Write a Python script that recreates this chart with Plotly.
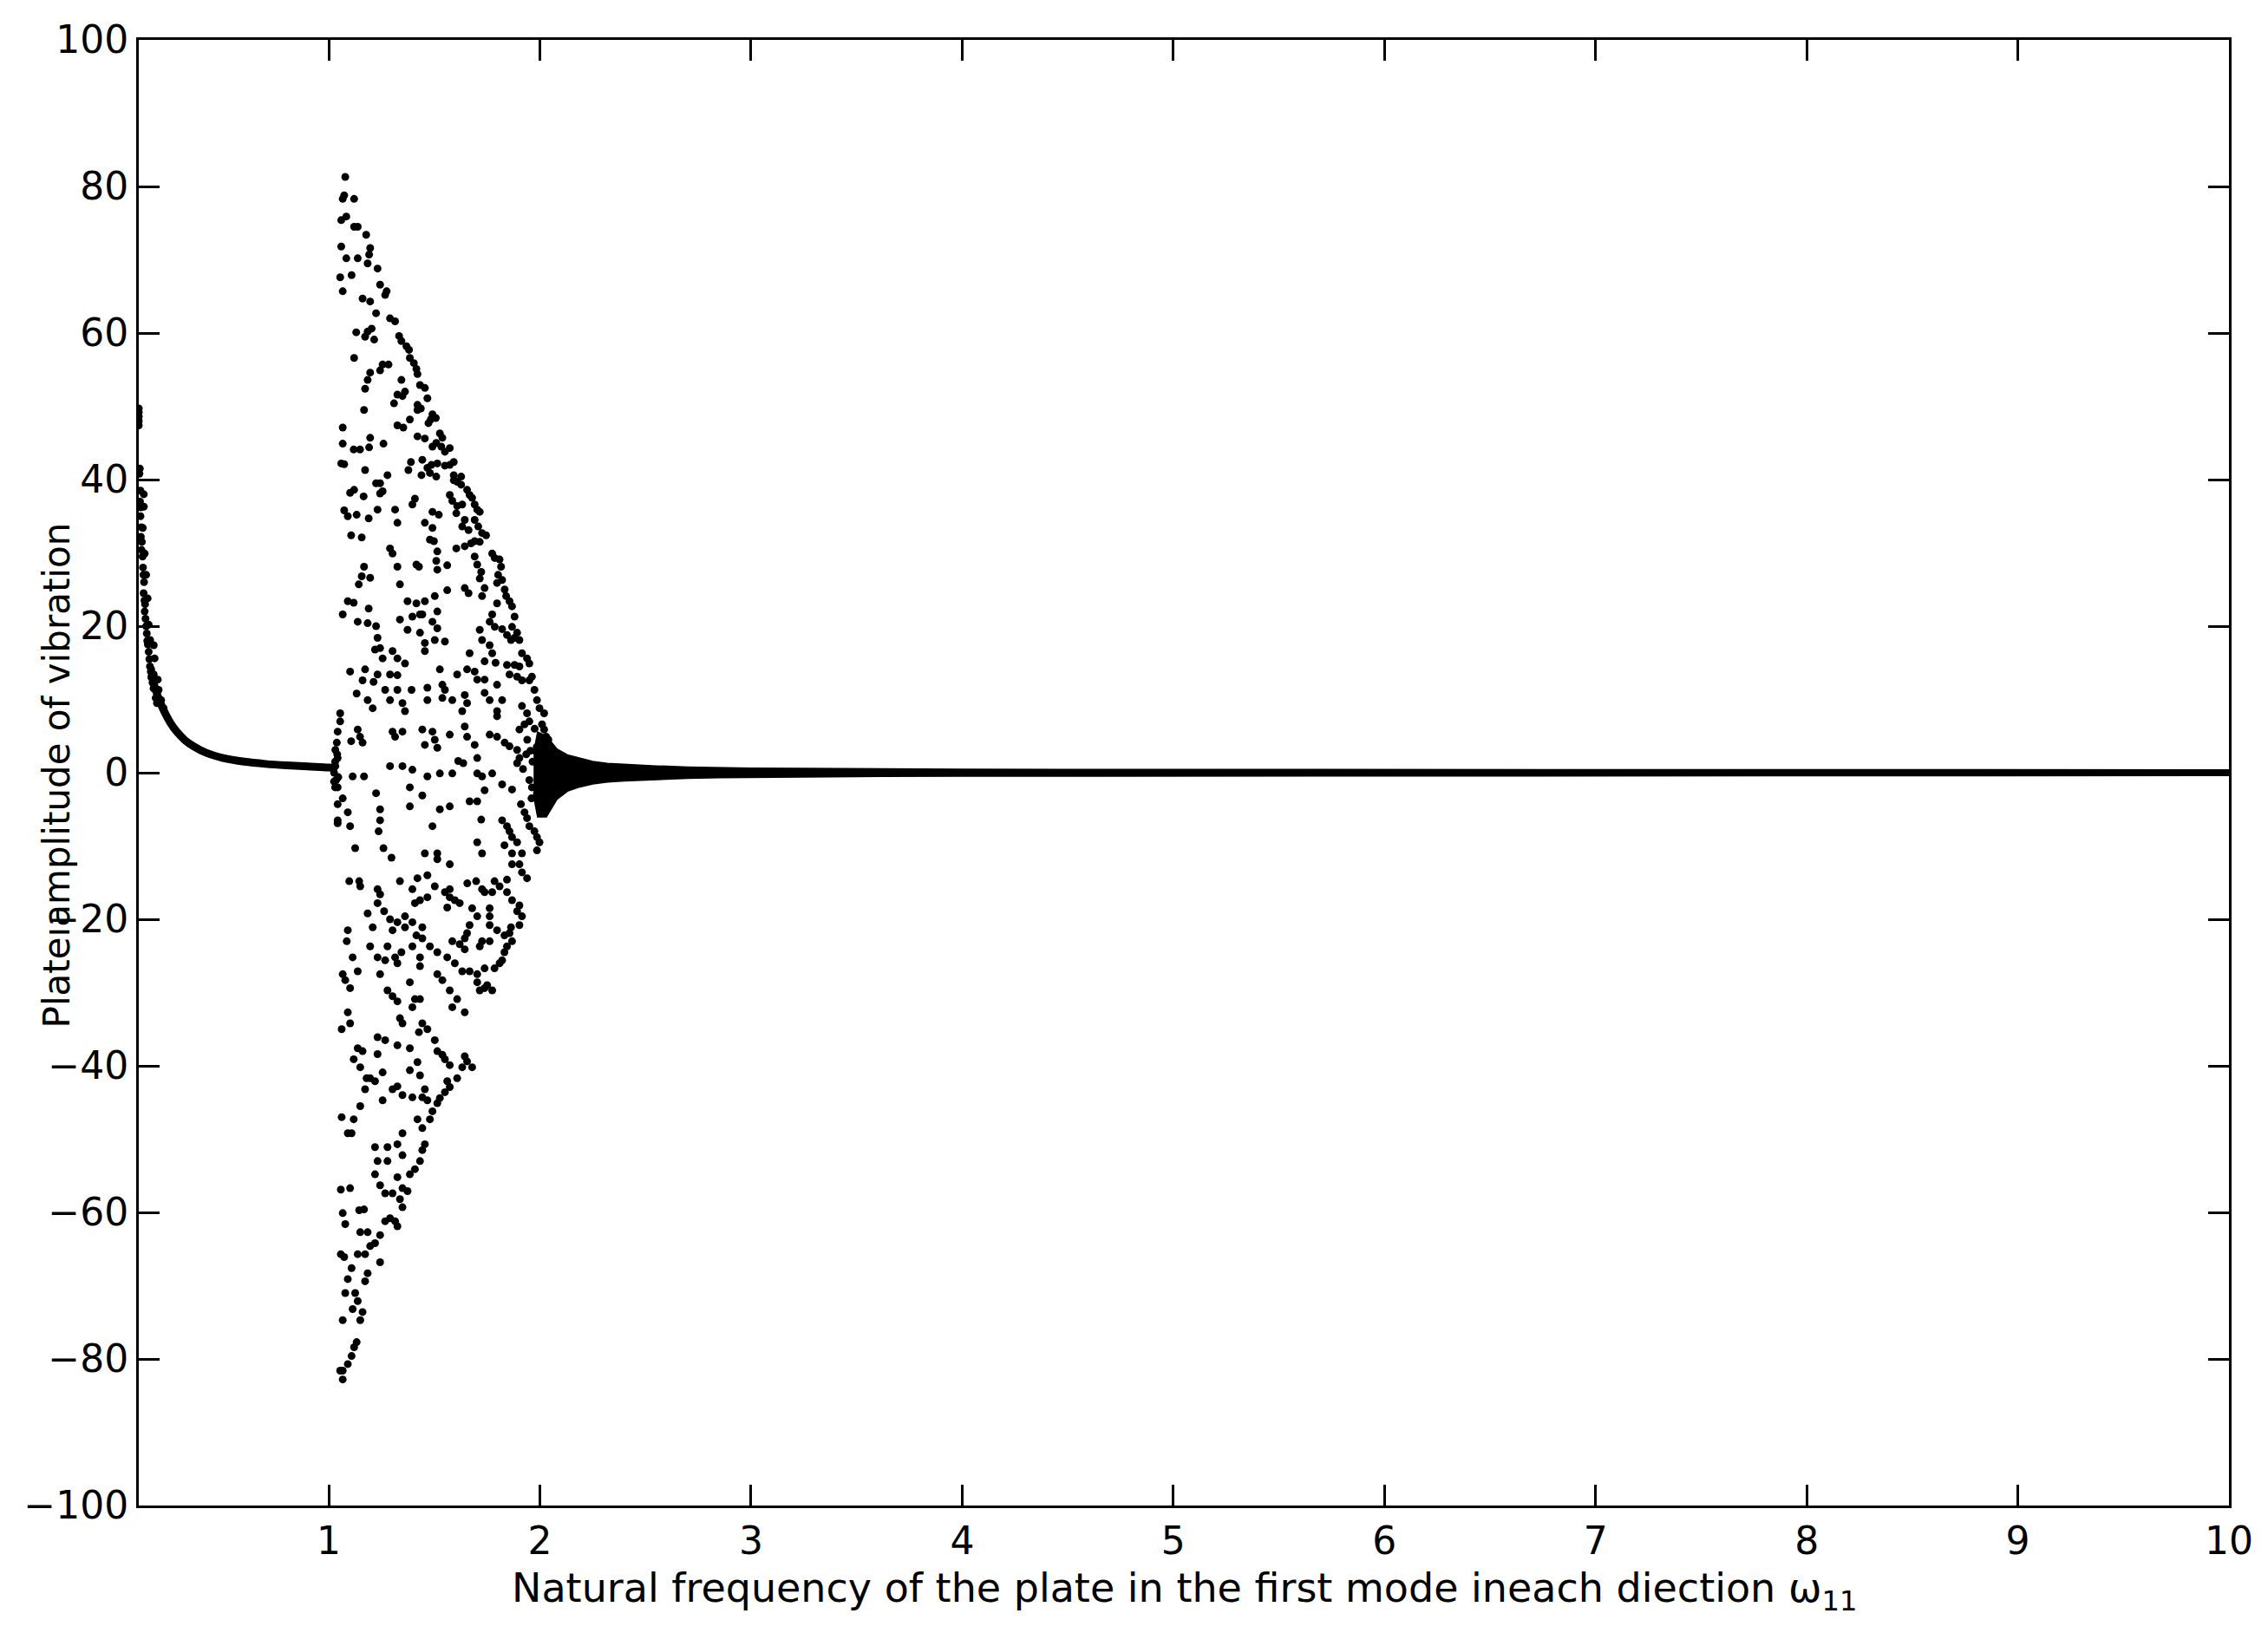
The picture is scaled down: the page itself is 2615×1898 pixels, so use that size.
import plotly.graph_objects as go

# ---------------- data ----------------
# left decaying branch (scattered points near the left edge)
decay_dots = [
    (0.100, 47.4), (0.100, 48.0), (0.100, 48.6), (0.100, 49.2), (0.100, 49.7),
    (0.105, 41.5), (0.103, 40.8), (0.108, 38.5), (0.106, 37.0), (0.110, 36.2),
    (0.108, 35.0), (0.112, 33.5), (0.110, 32.2), (0.115, 31.5), (0.113, 30.4),
    (0.118, 29.5), (0.120, 28.0), (0.122, 27.0), (0.125, 26.0), (0.123, 24.5),
    (0.127, 23.5), (0.130, 23.0), (0.128, 22.0), (0.132, 21.0), (0.135, 20.0),
    (0.138, 19.0), (0.140, 18.0), (0.143, 17.5), (0.147, 16.5), (0.150, 15.5),
    (0.153, 14.5), (0.157, 13.8), (0.160, 13.0), (0.165, 12.3), (0.170, 11.5),
    (0.124, 38.0), (0.124, 36.3), (0.119, 33.4), (0.128, 29.9), (0.135, 27.0),
    (0.142, 23.8), (0.147, 20.2), (0.154, 18.1), (0.171, 17.4), (0.175, 15.6),
    (0.159, 14.1), (0.171, 13.4), (0.190, 12.7), (0.194, 11.3), (0.206, 9.9),
    (0.218, 8.8), (0.180, 10.2), (0.186, 9.5),
]
decay_line_x = [0.16, 0.18, 0.20, 0.22, 0.25, 0.28, 0.32, 0.36, 0.42, 0.50,
                0.60, 0.70, 0.80, 0.90, 1.00, 1.04]
decay_line_y = [13.5, 11.3, 9.7, 8.4, 6.8, 5.6, 4.4, 3.6, 2.7, 2.0,
                1.5, 1.2, 1.0, 0.85, 0.7, 0.6]

# chaotic cloud, upper half
cloud_upper = [
    (1.078, 81.3), (1.073, 78.8), (1.066, 78.3), (1.120, 78.3), (1.083, 75.9),
    (1.059, 75.4), (1.120, 74.5), (1.137, 74.5), (1.177, 73.4), (1.059, 71.8),
    (1.196, 71.6), (1.191, 70.7), (1.083, 70.2), (1.137, 70.2), (1.184, 69.5),
    (1.231, 68.8), (1.108, 67.9), (1.054, 67.6), (1.066, 65.7), (1.160, 64.7),
    (1.196, 64.3), (1.243, 66.6), (1.267, 65.2), (1.274, 65.7), (1.224, 62.7),
    (1.290, 62.0), (1.314, 61.6), (1.203, 60.6), (1.184, 60.2), (1.130, 60.1),
    (1.172, 59.5), (1.215, 59.1), (1.333, 59.6), (1.344, 58.9), (1.368, 58.2),
    (1.380, 57.7), (1.120, 56.6), (1.384, 56.6), (1.403, 55.9), (1.415, 55.1),
    (1.420, 54.4), (1.255, 55.7), (1.283, 55.7), (1.243, 54.9), (1.196, 54.6),
    (1.184, 53.6), (1.172, 52.4), (1.344, 53.6), (1.361, 52.0), (1.325, 51.6),
    (1.349, 51.4), (1.432, 52.9), (1.455, 52.5), (1.467, 51.1), (1.309, 50.4),
    (1.167, 49.5), (1.420, 50.2), (1.420, 49.5), (1.436, 49.7), (1.491, 48.9),
    (1.507, 48.4), (1.483, 48.2), (1.472, 47.7), (1.325, 47.4), (1.353, 47.1),
    (1.384, 48.2), (1.066, 47.1), (1.066, 44.9), (1.420, 45.9), (1.455, 45.6),
    (1.526, 46.3), (1.538, 45.7), (1.509, 45.0), (1.491, 44.5), (1.533, 44.5),
    (1.573, 44.3), (1.550, 43.8), (1.196, 45.7), (1.191, 44.4), (1.259, 44.9),
    (1.118, 44.1), (1.148, 44.1), (1.059, 42.2), (1.073, 42.1), (1.389, 42.4),
    (1.443, 42.7), (1.467, 41.6), (1.486, 42.0), (1.514, 42.2), (1.550, 41.9),
    (1.573, 42.0), (1.592, 42.4), (1.172, 41.3), (1.377, 41.3), (1.439, 40.6),
    (1.509, 40.4), (1.479, 40.9), (1.592, 40.6), (1.627, 40.4), (1.592, 39.9),
    (1.608, 39.7), (1.627, 39.3), (1.278, 40.6), (1.224, 39.5), (1.243, 39.5),
    (1.255, 38.4), (1.120, 38.6), (1.101, 38.2), (1.165, 37.7), (1.243, 38.1),
    (1.655, 38.6), (1.667, 37.9), (1.679, 37.5), (1.691, 36.6), (1.703, 35.9),
    (1.715, 35.6), (1.573, 37.9), (1.585, 37.1), (1.608, 36.4), (1.632, 36.6),
    (1.604, 35.4), (1.408, 37.4), (1.396, 36.6), (1.073, 35.8), (1.090, 35.0),
    (1.132, 35.2), (1.189, 34.7), (1.231, 35.9), (1.314, 35.9), (1.325, 34.1),
    (1.491, 35.6), (1.521, 35.2), (1.455, 34.1), (1.491, 33.4), (1.644, 34.5),
    (1.691, 34.5), (1.708, 33.6), (1.726, 32.7), (1.745, 32.4), (1.632, 33.6),
    (1.662, 33.1), (1.691, 31.6), (1.715, 31.5), (1.106, 32.4), (1.156, 32.1),
    (1.479, 31.8), (1.498, 31.6), (1.674, 31.3), (1.644, 30.9), (1.604, 30.6),
    (1.774, 29.9), (1.786, 29.3), (1.809, 29.1), (1.816, 28.1), (1.802, 27.0),
    (1.821, 26.3), (1.797, 25.9), (1.833, 25.0), (1.290, 30.6), (1.302, 29.9),
    (1.325, 28.1), (1.514, 30.2), (1.691, 29.5), (1.703, 28.4), (1.722, 27.4),
    (1.715, 26.5), (1.509, 28.9), (1.514, 27.7), (1.561, 28.3), (1.415, 28.4),
    (1.427, 28.1), (1.337, 25.7), (1.167, 28.1), (1.156, 26.8), (1.142, 25.7),
    (1.196, 26.6), (1.644, 25.2), (1.662, 24.5), (1.738, 25.2), (1.726, 24.1),
    (1.840, 24.1), (1.856, 23.4), (1.868, 22.7), (1.880, 21.3), (1.868, 19.9),
    (1.892, 19.1), (1.903, 18.1), (1.797, 23.1), (1.774, 21.6), (1.762, 20.6),
    (1.786, 19.9), (1.821, 19.6), (1.844, 18.8), (1.863, 18.1), (1.880, 18.4),
    (1.561, 24.9), (1.502, 24.1), (1.455, 23.4), (1.514, 22.0), (1.443, 21.6),
    (1.373, 23.4), (1.415, 23.1), (1.432, 21.6), (1.118, 23.2), (1.090, 23.4),
    (1.189, 22.4), (1.066, 21.6), (1.137, 20.6), (1.184, 20.4), (1.224, 20.0),
    (1.337, 20.9), (1.396, 21.3), (1.373, 19.5), (1.432, 19.1), (1.491, 20.6),
    (1.514, 19.7), (1.455, 17.7), (1.455, 16.6), (1.502, 18.1), (1.550, 17.9),
    (1.715, 19.5), (1.726, 18.1), (1.762, 17.4), (1.774, 16.3), (1.738, 15.2),
    (1.790, 15.0), (1.915, 16.3), (1.939, 15.6), (1.950, 14.9), (1.962, 13.1),
    (1.950, 12.6), (1.974, 11.3), (1.844, 14.7), (1.880, 14.7), (1.903, 14.5),
    (1.856, 13.4), (1.892, 13.1), (1.915, 12.6), (1.231, 18.4), (1.243, 17.0),
    (1.219, 16.8), (1.255, 15.6), (1.302, 16.6), (1.325, 15.6), (1.361, 14.9),
    (1.101, 13.8), (1.172, 14.1), (1.231, 13.4), (1.290, 13.4), (1.325, 13.3),
    (1.160, 12.6), (1.212, 12.4), (1.267, 11.3), (1.325, 11.3), (1.667, 16.3),
    (1.655, 14.1), (1.691, 13.8), (1.703, 12.7), (1.738, 12.7), (1.608, 13.4),
    (1.526, 14.1), (1.538, 12.0), (1.550, 11.3), (1.467, 11.6), (1.392, 11.3),
    (1.467, 9.9), (1.797, 12.0), (1.821, 9.9), (1.132, 10.8), (1.184, 9.9),
    (1.208, 8.8), (1.290, 9.9), (1.349, 9.5), (1.361, 8.4), (1.538, 10.2),
    (1.585, 9.9), (1.644, 10.6), (1.655, 9.5), (1.632, 8.4), (1.738, 10.9),
    (1.762, 9.9), (1.797, 8.4), (1.797, 7.7), (1.986, 9.9), (1.998, 8.8),
    (2.020, 8.1), (2.010, 6.6), (2.020, 5.9), (2.030, 4.9), (2.040, 4.5),
    (1.915, 9.1), (1.939, 8.1), (1.950, 7.0), (1.927, 6.6), (1.903, 5.9),
    (1.054, 8.1), (1.054, 7.0), (1.042, 5.6), (1.038, 4.1), (1.031, 3.1),
    (1.042, 2.0), (1.031, 0.9), (1.137, 5.9), (1.148, 4.9), (1.160, 4.1),
    (1.106, 4.3), (1.302, 5.6), (1.314, 4.9), (1.349, 5.6), (1.443, 5.9),
    (1.491, 5.6), (1.502, 4.5), (1.455, 3.8), (1.514, 3.4), (1.573, 5.2),
    (1.644, 6.3), (1.655, 4.9), (1.691, 3.8), (1.703, 2.0), (1.762, 5.2),
    (1.797, 4.9), (1.833, 4.1), (1.856, 3.6), (1.892, 3.1), (1.903, 2.0),
    (1.613, 1.6), (1.637, 1.3), (1.585, -0.1), (1.526, -0.1), (1.467, -0.5),
    (1.396, 0.4), (1.113, -0.5), (1.167, -0.5), (1.290, 0.9), (1.349, 0.9),
    (1.703, -0.1), (1.726, -0.5), (1.774, -0.1), (1.821, -1.6), (1.868, -2.3),
    (1.892, 1.3), (1.030, 1.5), (1.035, -1.0), (1.030, -2.0), (1.040, 2.5),
    (1.025, 0.0), (1.025, -1.2), (1.045, -0.6),
    (1.940, 4.5), (1.955, 3.0), (1.965, 1.5), (1.950, -1.0), (1.960, -3.5),
    (1.975, 6.0), (1.985, 3.5), (1.935, 2.5), (1.920, 0.5),
]

# chaotic cloud, lower half
cloud_lower = [
    (1.042, -2.0), (1.042, -4.3), (1.066, -3.5), (1.090, -5.4), (1.101, -7.3),
    (1.042, -6.5), (1.042, -6.9), (1.125, -10.3), (1.097, -14.8), (1.144, -14.8),
    (1.149, -15.5), (1.224, -2.8), (1.243, -5.0), (1.243, -6.5), (1.236, -8.0),
    (1.259, -10.3), (1.297, -11.6), (1.337, -14.8), (1.384, -2.0), (1.384, -4.6),
    (1.443, -3.1), (1.491, -7.3), (1.526, -5.0), (1.573, -4.6), (1.667, -3.9),
    (1.703, -3.9), (1.738, -2.4), (1.722, -6.4), (1.821, -6.5), (1.844, -7.3),
    (1.856, -8.0), (1.868, -8.8), (1.892, -9.5), (1.915, -11.0), (1.903, -12.5),
    (1.915, -13.6), (1.939, -14.4), (1.910, -4.3), (1.927, -5.4), (1.939, -6.2),
    (1.950, -7.3), (1.974, -8.0), (1.986, -8.8), (1.998, -9.5), (1.986, -10.6),
    (1.962, -2.0), (1.986, -2.8), (2.010, -3.9), (2.030, -3.1), (2.020, -5.0),
    (1.703, -9.5), (1.726, -11.0), (1.832, -9.9), (1.868, -11.0), (1.868, -12.5),
    (1.844, -14.6), (1.514, -11.0), (1.455, -11.0), (1.514, -11.8), (1.573, -12.5),
    (1.785, -14.8), (1.774, -16.3), (1.809, -15.5), (1.844, -16.3), (1.868, -17.4),
    (1.903, -18.1), (1.892, -18.9), (1.915, -19.6), (1.903, -20.8), (1.762, -18.5),
    (1.762, -19.6), (1.762, -20.8), (1.797, -21.5), (1.832, -22.2), (1.856, -21.9),
    (1.863, -21.1), (1.868, -23.0), (1.844, -23.7), (1.832, -24.5), (1.821, -25.6),
    (1.809, -26.0), (1.656, -15.1), (1.698, -14.8), (1.726, -15.9), (1.738, -16.3),
    (1.467, -14.0), (1.420, -14.4), (1.396, -15.9), (1.432, -17.4), (1.408, -17.8),
    (1.467, -17.0), (1.502, -15.5), (1.550, -16.3), (1.573, -15.9), (1.597, -17.4),
    (1.620, -17.8), (1.573, -17.0), (1.561, -18.4), (1.231, -15.9), (1.243, -16.6),
    (1.262, -18.9), (1.231, -17.8), (1.290, -20.0), (1.325, -20.4), (1.302, -21.5),
    (1.361, -21.1), (1.361, -19.6), (1.396, -20.4), (1.443, -21.1), (1.415, -22.2),
    (1.396, -23.7), (1.344, -24.5), (1.314, -25.2), (1.325, -26.0), (1.184, -19.2),
    (1.208, -21.1), (1.196, -23.7), (1.231, -25.2), (1.267, -25.6), (1.278, -23.7),
    (1.243, -27.5), (1.090, -21.5), (1.085, -23.0), (1.113, -25.2), (1.137, -27.1),
    (1.101, -29.4), (1.090, -32.7), (1.066, -27.5), (1.078, -28.3), (1.061, -35.0),
    (1.101, -34.2), (1.118, -39.1), (1.137, -37.6), (1.160, -38.0), (1.179, -41.7),
    (1.679, -18.5), (1.703, -19.6), (1.667, -20.8), (1.655, -21.9), (1.644, -22.6),
    (1.715, -23.7), (1.726, -23.0), (1.738, -26.7), (1.703, -27.5), (1.667, -27.1),
    (1.585, -23.0), (1.620, -23.4), (1.644, -24.1), (1.514, -24.5), (1.561, -25.2),
    (1.597, -26.0), (1.632, -27.1), (1.443, -22.6), (1.479, -23.7), (1.432, -25.2),
    (1.432, -26.4), (1.514, -27.5), (1.538, -28.3), (1.573, -29.7), (1.608, -30.9),
    (1.585, -32.0), (1.644, -32.7), (1.703, -28.6), (1.715, -29.7), (1.738, -29.4),
    (1.750, -29.0), (1.774, -29.7), (1.762, -23.0), (1.785, -26.7), (1.278, -29.7),
    (1.302, -30.5), (1.325, -31.2), (1.337, -33.5), (1.349, -34.2), (1.384, -28.6),
    (1.408, -30.9), (1.432, -30.9), (1.396, -32.0), (1.427, -35.4), (1.443, -34.2),
    (1.467, -35.0), (1.502, -36.5), (1.514, -38.0), (1.538, -38.5), (1.550, -39.1),
    (1.573, -39.9), (1.561, -42.1), (1.573, -42.9), (1.550, -43.6), (1.526, -44.4),
    (1.514, -45.1), (1.491, -46.2), (1.479, -47.3), (1.644, -38.7), (1.655, -39.4),
    (1.679, -40.2), (1.632, -40.2), (1.608, -41.7), (1.231, -36.1), (1.267, -36.5),
    (1.231, -38.4), (1.255, -40.9), (1.219, -42.1), (1.255, -44.7), (1.325, -37.2),
    (1.384, -37.6), (1.420, -39.5), (1.384, -40.6), (1.432, -41.3), (1.455, -43.2),
    (1.302, -43.2), (1.325, -42.8), (1.349, -44.0), (1.396, -44.3), (1.443, -44.3),
    (1.467, -44.7), (1.149, -40.2), (1.196, -41.7), (1.172, -43.2), (1.149, -45.5),
    (1.118, -47.3), (1.108, -49.2), (1.061, -47.0), (1.090, -49.2), (1.420, -47.3),
    (1.443, -48.5), (1.455, -50.7), (1.443, -51.5), (1.432, -53.0), (1.408, -54.1),
    (1.384, -54.8), (1.349, -49.2), (1.325, -50.7), (1.349, -52.2), (1.278, -51.1),
    (1.278, -53.0), (1.219, -51.1), (1.231, -53.0), (1.219, -54.8), (1.243, -56.3),
    (1.267, -57.4), (1.302, -57.4), (1.337, -58.2), (1.349, -56.7), (1.373, -57.1),
    (1.325, -55.2), (1.349, -59.3), (1.290, -60.8), (1.314, -61.2), (1.325, -61.9),
    (1.267, -61.2), (1.057, -56.9), (1.101, -56.7), (1.066, -60.1), (1.078, -61.6),
    (1.144, -59.7), (1.167, -59.6), (1.149, -62.7), (1.184, -62.7), (1.243, -63.1),
    (1.219, -64.2), (1.196, -64.6), (1.137, -65.7), (1.172, -65.7), (1.243, -66.8),
    (1.057, -65.7), (1.073, -66.1), (1.108, -67.6), (1.090, -69.1), (1.078, -71.0),
    (1.125, -71.0), (1.137, -72.1), (1.113, -73.2), (1.160, -73.6), (1.149, -74.7),
    (1.184, -68.3), (1.172, -69.4), (1.066, -74.7), (1.132, -77.7), (1.120, -78.4),
    (1.108, -79.6), (1.090, -80.7), (1.066, -81.6), (1.054, -81.6), (1.066, -82.8),
]

# dense band that converges onto zero (upper / lower edges)
band_x = [1.97, 1.99, 2.03, 2.08, 2.13, 2.18, 2.25, 2.32, 2.40, 2.55, 2.70,
          2.85, 3.00, 3.25, 3.50, 4.00, 4.50, 5.50, 7.00, 8.50, 10.0]
band_top = [2.5, 5.5, 5.0, 3.2, 2.4, 2.0, 1.5, 1.25, 1.1, 0.9, 0.75,
            0.66, 0.6, 0.55, 0.5, 0.45, 0.42, 0.40, 0.38, 0.37, 0.36]
band_bottom = [-3.0, -6.0, -6.0, -3.6, -2.5, -2.0, -1.5, -1.25, -1.1, -0.9, -0.75,
               -0.66, -0.6, -0.55, -0.5, -0.45, -0.42, -0.40, -0.38, -0.37, -0.36]

x_ticks = [1, 2, 3, 4, 5, 6, 7, 8, 9, 10]
y_ticks = [-100, -80, -60, -40, -20, 0, 20, 40, 60, 80, 100]
x_label = "Natural frequency of the plate in the first mode ineach diection \u03c9<sub>11</sub>"
y_label = "Plate\u0131amplitude of vibration"

# ---------------- figure ----------------
FONT = "DejaVu Sans, Liberation Sans, Arial, sans-serif"
fig = go.Figure()

fig.add_trace(go.Scatter(
    x=band_x + band_x[::-1], y=band_top + band_bottom[::-1],
    mode="lines", fill="toself", fillcolor="black",
    line=dict(color="black", width=2), hoverinfo="skip",
    showlegend=False))

fig.add_trace(go.Scatter(
    x=decay_line_x, y=decay_line_y, mode="lines",
    line=dict(color="black", width=9, shape="spline"), showlegend=False))

for pts in (decay_dots, cloud_upper, cloud_lower):
    xs = [p[0] for p in pts]
    ys = [p[1] for p in pts]
    fig.add_trace(go.Scatter(
        x=xs, y=ys, mode="markers",
        marker=dict(color="black", size=9, line=dict(width=0)),
        showlegend=False))

axis_common = dict(
    showgrid=False, zeroline=False, showline=True, linecolor="black",
    linewidth=3, mirror="ticks", ticks="inside", ticklen=24, tickwidth=3,
    tickcolor="black", tickfont=dict(family=FONT, size=44, color="black"),
)

fig.update_xaxes(range=[0.1, 10], tickvals=x_ticks, ticktext=[str(v) for v in x_ticks],
                 **axis_common)
fig.update_yaxes(range=[-100, 100], tickvals=y_ticks,
                 ticktext=[str(v).replace("-", "\u2212") for v in y_ticks],
                 **axis_common)

fig.add_annotation(text=x_label, xref="paper", yref="paper", x=0.5, y=-0.058,
                   xanchor="center", yanchor="middle", showarrow=False,
                   font=dict(family=FONT, size=46, color="black"))
fig.add_annotation(text=y_label, xref="paper", yref="paper", x=-0.0394, y=0.498,
                   xanchor="center", yanchor="middle", showarrow=False, textangle=-90,
                   font=dict(family=FONT, size=42, color="black"))

fig.update_layout(
    width=2615, height=1898,
    margin=dict(l=152, r=53, t=34, b=170),
    paper_bgcolor="white", plot_bgcolor="white",
    showlegend=False,
)

fig.write_html("out.html")
